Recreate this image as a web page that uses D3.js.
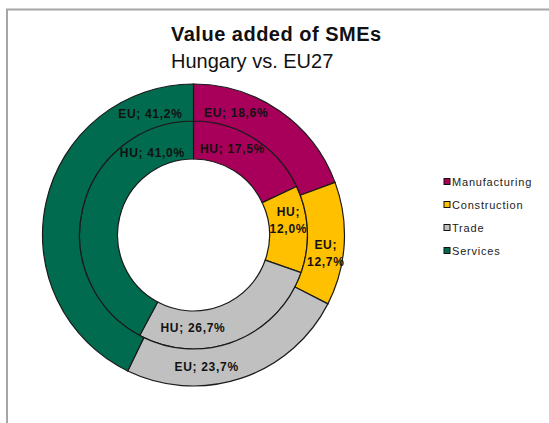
<!DOCTYPE html>
<html>
<head>
<meta charset="utf-8">
<script src="https://cdn.jsdelivr.net/npm/d3@7"></script>
<style>
  body { margin: 0; background: #fff; }
  svg { display: block; font-family: Arial, "Liberation Sans", sans-serif; }
</style>
</head>
<body>
<svg id="chart"></svg>
<script>
const width = 549;
const height = 423;

// data
const sectors = ['Manufacturing', 'Construction', 'Trade', 'Services'];
const huValues = [17.5, 12.0, 26.7, 41.0];
const euValues = [18.6, 12.7, 23.7, 41.2];
const colors = ['#A8005A', '#FFC000', '#C0C0C0', '#006B4F'];

// manual label nudges from the arc centroid (like dragged labels in the original)
const huNudge = [[-12, -6], [0, -10], [-35, 4], [51, -59]];
const euNudge = [[-33, -13], [0, 10], [-29, 6], [86, -92]];
const twoLine = [false, true, false, false];

const cx = 193.5, cy = 235;
const rInner = 76, rMid = 114, rOuter = 151;

const svg = d3.select('#chart')
  .attr('width', width)
  .attr('height', height);

// frame (only top and left edges visible)
svg.append('rect')
  .attr('x', 7).attr('y', 9.5)
  .attr('width', 700).attr('height', 600)
  .attr('fill', 'none')
  .attr('stroke', '#a6a6a6')
  .attr('stroke-width', 2);

svg.append('text')
  .attr('x', 171).attr('y', 41)
  .attr('font-size', 20).attr('font-weight', 'bold')
  .attr('letter-spacing', 0.5)
  .attr('fill', '#111')
  .text('Value added of SMEs');

svg.append('text')
  .attr('x', 171).attr('y', 68)
  .attr('font-size', 20)
  .attr('fill', '#111')
  .text('Hungary vs. EU27');

const pie = d3.pie().sort(null).value(d => d);
const color = d3.scaleOrdinal().domain(sectors).range(colors);

const g = svg.append('g').attr('transform', `translate(${cx},${cy})`);

const rings = [
  { key: 'HU', values: huValues, r0: rInner, r1: rMid, nudge: huNudge },
  { key: 'EU', values: euValues, r0: rMid, r1: rOuter, nudge: euNudge }
];

const fmt = v => v.toFixed(1).replace('.', ',') + '%';

rings.forEach(ring => {
  const arc = d3.arc().innerRadius(ring.r0).outerRadius(ring.r1);
  const arcs = pie(ring.values);

  g.append('g').selectAll('path')
    .data(arcs)
    .join('path')
    .attr('d', arc)
    .attr('fill', (d, i) => color(sectors[i]))
    .attr('stroke', '#1a1a1a')
    .attr('stroke-width', 1.2);

  const labels = g.append('g').selectAll('text')
    .data(arcs)
    .join('text')
    .attr('transform', (d, i) => {
      const c = arc.centroid(d);
      return `translate(${c[0] + ring.nudge[i][0]},${c[1] + ring.nudge[i][1]})`;
    })
    .attr('text-anchor', 'middle')
    .attr('font-size', 12)
    .attr('font-weight', 'bold')
    .attr('letter-spacing', 0.7)
    .attr('fill', '#111');

  labels.each(function(d, i) {
    const t = d3.select(this);
    if (twoLine[i]) {
      t.append('tspan').attr('x', 0).attr('dy', '-0.3em').text(ring.key + ';');
      t.append('tspan').attr('x', 0).attr('dy', '1.4em').text(fmt(d.data));
    } else {
      t.append('tspan').attr('x', 0).attr('dy', '0.35em').text(ring.key + '; ' + fmt(d.data));
    }
  });
});

// legend
const legend = svg.append('g').attr('transform', 'translate(444,182)');
const item = legend.selectAll('g')
  .data(sectors)
  .join('g')
  .attr('transform', (d, i) => `translate(0,${i * 23})`);

item.append('rect')
  .attr('x', 0).attr('y', -3.5)
  .attr('width', 6).attr('height', 6)
  .attr('fill', d => color(d))
  .attr('stroke', '#111')
  .attr('stroke-width', 1);

item.append('text')
  .attr('x', 8).attr('y', 4)
  .attr('font-size', 11)
  .attr('letter-spacing', 0.8)
  .attr('fill', '#222')
  .text(d => d);
</script>
</body>
</html>
